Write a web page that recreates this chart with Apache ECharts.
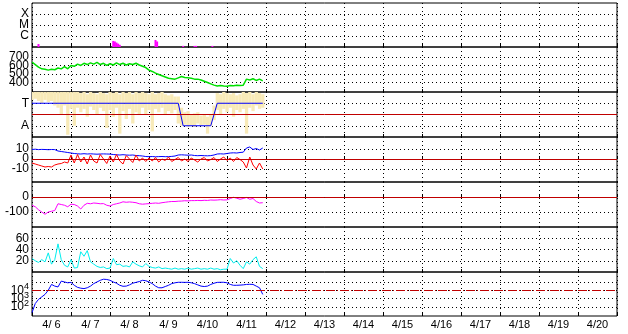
<!DOCTYPE html>
<html><head><meta charset="utf-8">
<script src="https://cdn.jsdelivr.net/npm/echarts@6/dist/echarts.min.js"></script>
<style>html,body{margin:0;padding:0;background:#fff}#c{width:628px;height:334px}</style>
</head><body><div id="c"></div>
<script>
// time axis: hours since 4/6 00:00, 2-hour sampling
const hours = Array.from({length: 72}, (_, i) => i * 2);
const dayLabels = ['4/ 6','4/ 7','4/ 8','4/ 9','4/10','4/11','4/12','4/13','4/14','4/15','4/16','4/17','4/18','4/19','4/20'];

// panel 1: flare class bars (C=1, M=2, X=3)
const flareHours = [4, 50, 51, 52, 53, 54, 76, 77, 93, 100, 101, 111];
const flareLevels = [0.27, 0.55, 0.5, 0.4, 0.3, 0.2, 0.64, 0.5, 0.1, 0.1, 0.1, 0.1];

// panel 2: green
const speed = [640,610,580,560,555,545,555,550,570,560,585,560,600,590,615,600,625,610,630,615,635,610,625,600,620,605,630,610,625,605,620,610,625,605,590,575,545,530,510,495,480,465,450,445,440,455,470,460,455,450,440,440,430,415,400,385,370,360,365,360,358,365,362,368,365,370,440,430,445,425,440,420];

// panel 3: yellow band (A=1, T=3) and blue step
const angleHi = [4,4,4,4,4,4,4,4,4, 4,4,4,4,4, 4,3.9,4,3.8,4,3.9,3.8,4,3.9, 3.8,4,3.9,4,3.8,4,3.9,4,3.8,4,3.9, 4,3.9,3.8,4,3.8,3.9,4,3.8,3.7,3.8,3.6, 3.6,2.6,2.2,2.3,2.0,2.1,2.2,1.9,2.0,1.8,2.0,2.8, 3.9,3.8,4,3.9,3.8,3.9,3.7,3.8,4,3.9,4,3.8,4,3.9,3.8];
const angleLo = [3.3,3.4,3.2,3.0,3.3,3.1,3.2,2.8,2.6, 2.0,2.8,0.2,2.5,1.0, 2.6,2.2,2.5,1.8,2.7,2.4,2.0,2.6,2.3, 0.8,2.4,1.8,2.6,0.3,2.3,1.6,2.5,1.2,2.2,2.0, 2.6,2.0,2.4,0.5,2.5,2.2,2.6,2.0,2.3,2.1,2.4, 1.2,1.0,1.1,0.9,1.0,0.9,1.2,1.0,1.1,0.3,1.0,1.5, 2.4,2.0,2.5,2.2,2.6,1.8,2.4,2.2,2.5,0.3,2.6,2.3,2.8,2.5,2.6];
const modeHours = [0, 90, 93, 110, 114, 142];
const modeValues = [3, 3, 1, 1, 3, 3];

// panel 4: blue and red
const bt = [9.5,9.8,9.4,9.6,9.5,9.3,9.5,9.4,8,7.5,7,6.5,6,5.5,5.2,5,5.3,5,5.2,5,4.8,5,5.1,5,4.9,4.5,4.2,4,4.3,4,3.8,4,3.5,3.3,3,2.5,2.3,2.5,2.2,2.4,2.5,2.3,2.4,2.6,3,4,4.2,4,3.8,4,3.5,3.3,3.5,3.3,3.2,3.4,4,5,5.2,5,5.5,6,6.2,6,6.5,6.8,11,12,9.5,10.5,9,11];
const bz = [-4,-5,-6,-7,-8,-7.5,-8,-6,-5,-4.5,-3,-4,4,-4,4.5,-3,2,-5,4,-2,-4,4.5,0,-4.5,3,-3,4.5,-2,-5,3.5,0,-3.5,4,-2,1,-2.5,1,-2,1.5,-3,0,-1.5,2,-2.5,-0.5,1.5,-2,0,-2.5,1,-1,-3,0,1.5,-2,-0.5,1.5,-2.5,0,2,-1.5,1,-2.5,1.5,-0.5,-3,-9,2,-6,-10,-4,-10];

// panel 5: magenta
const dst = [-55,-65,-85,-100,-115,-100,-95,-90,-45,-50,-55,-65,-48,-50,-60,-80,-55,-42,-45,-40,-42,-45,-44,-55,-60,-50,-45,-40,-32,-35,-33,-35,-38,-45,-48,-46,-44,-42,-40,-42,-38,-35,-32,-30,-30,-28,-27,-25,-26,-24,-24,-23,-24,-22,-23,-20,-21,-20,-18,-20,-19,-10,-2,-8,-15,-10,-3,-15,-10,-30,-40,-38];

// panel 6: cyan
const kp = [24,20,17,22,18,34,14,22,50,22,12,9,22,7,8,36,28,38,18,14,10,8,9,6,7,24,13,14,10,11,9,18,14,11,9,15,10,8,7,9,6,7,6,5,7,5,6,5,7,5,6,7,5,6,5,7,5,6,4,5,5,24,16,20,12,6,18,14,22,27,10,6];

// panel 7: blue (log10 of flux)
const fluxLog = [1.3,2.4,2.9,3.2,3.5,4.0,4.7,4.5,4.4,5.1,5.0,4.9,4.95,4.6,4.35,4.25,4.2,4.3,4.5,4.8,5.0,5.2,5.33,5.3,5.2,5.0,4.85,4.6,4.48,4.5,4.65,4.85,4.95,5.05,5.2,5.15,5.0,4.8,4.5,4.3,4.3,4.45,4.6,4.8,4.9,4.96,4.96,4.95,4.96,4.9,4.8,4.65,4.5,4.45,4.5,4.7,4.85,4.95,4.96,4.96,4.9,4.7,4.6,4.6,4.62,4.65,4.7,4.72,4.7,4.5,4.3,3.5];

const zip = (xs, ys) => xs.map((x, i) => [x, ys[i]]);
const panels = [[3,44],[47,45],[92,45],[137,45],[182,45],[227,45],[272,44]];
const dot = [1, 3];
const FONT = 'Liberation Sans';

const grids = panels.map(p => ({left: 32, right: 11, top: p[0], height: p[1], containLabel: false, outerBoundsMode: 'none',
  show: true, borderColor: '#000', borderWidth: 1, backgroundColor: 'transparent'}));
const xAxes = panels.map((p, i) => ({
  type: 'value', gridIndex: i, min: 0, max: 360, interval: 24,
  axisLabel: {show: false}, axisLine: {show: false},
  axisTick: {show: true, inside: true, length: 3, lineStyle: {color: '#000'}},
  splitLine: {show: true, lineStyle: {color: '#000', type: dot, width: 1}}
}));
xAxes.push({type: 'category', gridIndex: 6, data: dayLabels, boundaryGap: true, position: 'bottom',
  axisLine: {show: false}, axisTick: {show: false}, splitLine: {show: false},
  axisLabel: {color: '#000', fontSize: 11, fontFamily: FONT, margin: 3}});

function yax(i, min, max, ticks, labels, fmt, grid) {
  return {
    type: 'value', gridIndex: i, min: min, max: max, position: 'left', offset: 0,
    axisLine: {show: false},
    axisTick: {show: false, customValues: ticks},
    axisLabel: {customValues: labels, interval: 0, hideOverlap: false, showMinLabel: true, showMaxLabel: true,
      color: '#000', fontSize: 12, lineHeight: 7, fontFamily: FONT, margin: 3, formatter: fmt || (v => String(v))},
    splitLine: {show: grid !== false, lineStyle: {color: '#000', type: dot, width: 1}}
  };
}
const classNames = {1: 'C', 2: 'M', 3: 'X'};
const modeNames = {1: 'A', 3: 'T'};
const supFmt = v => '{b|10}{s|' + v + '}';
// primary axes (gridlines + some labels) and secondary axes (remaining labels only)
const yAxes = [
  yax(0, 0, 4, [1,2,3], [1,3], v => classNames[v] || ''),
  yax(1, 290, 815, [400,500,600,700], [400,600]),
  yax(2, 0, 4, [1,3], [1,3], v => modeNames[v] || ''),
  yax(3, -23, 22, [-10,0,10], [-10,10]),
  yax(4, -200, 100, [-100,0], [-100,0]),
  yax(5, 0, 80, [20,40,60], [20,60]),
  yax(6, 0.9, 6.2, [2,3,4,5], [2,4], supFmt),
  yax(0, 0, 4, [2], [2], v => classNames[v] || '', false),
  yax(1, 290, 815, [500,700], [500,700], null, false),
  yax(3, -23, 22, [0], [0], null, false),
  yax(5, 0, 80, [40], [40], null, false),
  yax(6, 0.9, 6.2, [3], [3], supFmt, false)
];
const rich = {b: {fontSize: 12, lineHeight: 7, fontFamily: FONT, color: '#000'}, s: {fontSize: 9, lineHeight: 7, fontFamily: FONT, color: '#000', padding: [0,0,7,0]}};
yAxes[6].axisLabel.rich = rich;
yAxes[11].axisLabel.rich = rich;

const red = '#c00000';
function hline(y, style) {
  return {silent: true, symbol: 'none', label: {show: false}, animation: false,
    lineStyle: Object.assign({color: red, width: 1, type: 'solid'}, style || {}), data: [{yAxis: y}]};
}
function line(i, data, color, extra) {
  return Object.assign({type: 'line', xAxisIndex: i, yAxisIndex: i, data: data, showSymbol: false, symbol: 'none',
    lineStyle: {color: color, width: 1}, itemStyle: {color: color}, animation: false}, extra || {});
}
const yellow = '#f8eab8';

const series = [
  {type: 'bar', xAxisIndex: 0, yAxisIndex: 0, data: zip(flareHours, flareLevels), barWidth: 2, itemStyle: {color: '#ff00ff'}, animation: false},
  line(1, zip(hours, speed), '#00e000', {lineStyle: {color: '#00e000', width: 1.5}}),
  {type: 'custom', xAxisIndex: 2, yAxisIndex: 2, clip: true, animation: false, z: 1,
    data: hours.map((h, i) => [h, angleLo[i], angleHi[i]]), encode: {x: 0, y: [1, 2]},
    renderItem: function (params, api) {
      const top = api.coord([api.value(0), api.value(2)]);
      const bot = api.coord([api.value(0), api.value(1)]);
      return {type: 'rect', shape: {x: top[0] - 1.6, y: top[1], width: 3.3, height: bot[1] - top[1]}, style: {fill: yellow}};
    }},
  line(2, zip(modeHours, modeValues), '#0000ff', {z: 3, markLine: hline(2)}),
  line(3, zip(hours, bt), '#0000ff', {z: 2}),
  line(3, zip(hours, bz), '#ff0000', {z: 3, markLine: hline(0)}),
  line(4, zip(hours, dst), '#ff00ff', {markLine: hline(0)}),
  line(5, zip(hours, kp), '#00eeee'),
  line(6, zip(hours, fluxLog), '#0000ff', {markLine: hline(4, {type: [9, 2, 1, 2]})})
];

const chart = echarts.init(document.getElementById('c'), null, {renderer: 'canvas'});
chart.setOption({animation: false, backgroundColor: '#fff', grid: grids, xAxis: xAxes, yAxis: yAxes, series: series});
</script>
</body></html>
